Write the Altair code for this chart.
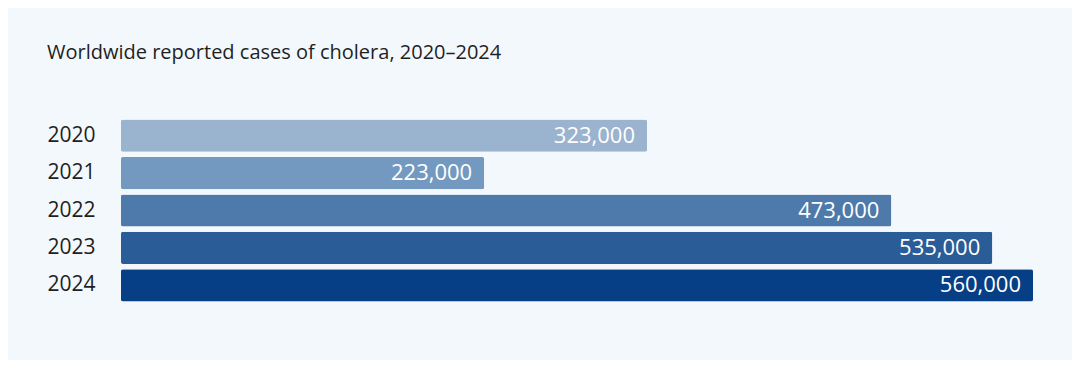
import altair as alt
import pandas as pd

years = ["2020", "2021", "2022", "2023", "2024"]
cases = [323000, 223000, 473000, 535000, 560000]
colors = ["#9ab3cf", "#7499c0", "#4e7aab", "#2a5c97", "#063f85"]

df = pd.DataFrame({"year": years, "cases": cases})

FONT = "Open Sans"

base = alt.Chart(df).encode(
    y=alt.Y("year:N", sort=years, title=None,
            scale=alt.Scale(paddingInner=0.14, paddingOuter=0.07),
            axis=alt.Axis(domain=False, ticks=False, labelPadding=26,
                          labelFont=FONT, labelFontSize=21, labelColor="#1f1f1f")),
)

bars = base.mark_bar(cornerRadius=2).encode(
    x=alt.X("cases:Q", title=None, scale=alt.Scale(domain=[0, 560000], nice=False),
            axis=None),
    color=alt.Color("year:N", scale=alt.Scale(domain=years, range=colors), legend=None),
)

labels = base.mark_text(align="right", baseline="middle", dx=-12, color="white",
                        font=FONT, fontSize=22).encode(
    x="cases:Q",
    text=alt.Text("cases:Q", format=",.0f"),
)

chart = (bars + labels).properties(
    width=912, height=187,
    autosize=alt.AutoSizeParams(type="none"),
    padding={"left": 113, "top": 109, "right": 39, "bottom": 56},
    background="#f3f8fc",
    title=alt.TitleParams("Worldwide reported cases of cholera, 2020–2024",
                          anchor="start", frame="group", dx=-74, offset=54, font=FONT,
                          fontSize=20, fontWeight="normal", color="#1f1f1f"),
).configure_view(stroke=None)

chart.save("out.html", embed_options={"renderer": "svg", "actions": False})
